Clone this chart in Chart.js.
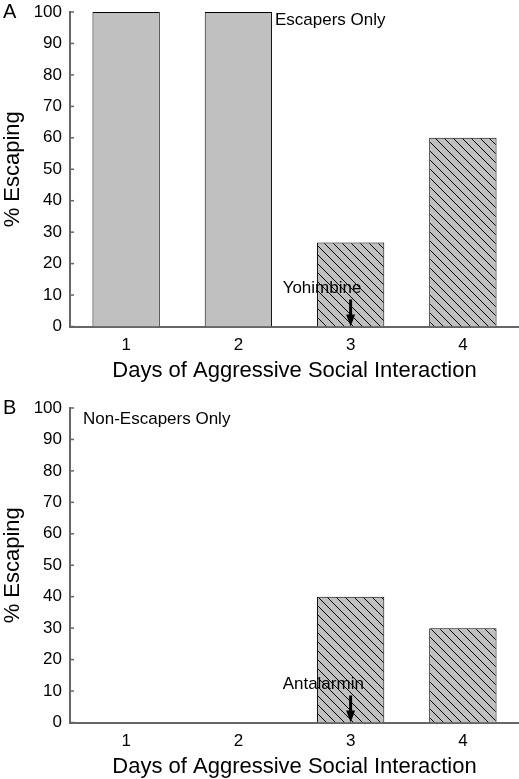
<!DOCTYPE html>
<html>
<head>
<meta charset="utf-8">
<script src="https://cdn.jsdelivr.net/npm/chart.js@4.4.1/dist/chart.umd.min.js"></script>
<style>
html, body { margin: 0; padding: 0; background: #fff; }
#wrap { position: relative; width: 519px; height: 779px; overflow: hidden; }
.panel { position: absolute; left: 0; width: 519px; height: 390px; }
</style>
</head>
<body>
<div id="wrap">
  <div class="panel" style="top:0"><canvas id="panelA" width="519" height="390"></canvas></div>
  <div class="panel" style="top:396px"><canvas id="panelB" width="519" height="390"></canvas></div>
</div>
<script>
// values
const days = ['1', '2', '3', '4'];
const escapersPct = [100, 100, 26.7, 60];
const nonEscapersPct = [0, 0, 40, 30];
const hatchedDays = [false, false, true, true];
const drugNames = ['Yohimbine', 'Antalarmin'];
const groupNames = ['Escapers Only', 'Non-Escapers Only'];
const panelLetters = ['A', 'B'];
const drugDay = '3';

const FONT = '"Liberation Sans", Arial, sans-serif';
const AXIS = '#666';

function makeHatch() {
    const c = document.createElement('canvas');
    c.width = 9; c.height = 9;
    const g = c.getContext('2d');
    g.fillStyle = '#c0c0c0';
    g.fillRect(0, 0, 9, 9);
    g.strokeStyle = '#000';
    g.lineWidth = 1;
    g.beginPath();
    g.moveTo(0, 0); g.lineTo(9, 9);
    g.moveTo(-1, 8); g.lineTo(1, 10);
    g.moveTo(8, -1); g.lineTo(10, 1);
    g.stroke();
    return g.createPattern(c, 'repeat');
}

// inward y ticks, panel letter, group label, drug arrow
const extras = {
    id: 'extras',
    afterDraw(chart, args, opts) {
        const ctx = chart.ctx;
        const xs = chart.scales.x, ys = chart.scales.y;
        ctx.save();
        ctx.strokeStyle = AXIS;
        ctx.lineWidth = 1.5;
        ys.ticks.forEach(t => {
            const py = ys.getPixelForValue(t.value);
            ctx.beginPath();
            ctx.moveTo(xs.left, py);
            ctx.lineTo(xs.left + 4, py);
            ctx.stroke();
        });

        ctx.fillStyle = '#000';
        ctx.textBaseline = 'middle';
        ctx.textAlign = 'left';
        ctx.font = '20px ' + FONT;
        ctx.fillText(opts.letter, 3, 12);

        ctx.font = '17px ' + FONT;
        ctx.fillText(opts.group, opts.groupX, opts.groupY);

        const ax = xs.getPixelForValue(days.indexOf(drugDay));
        const base = ys.getPixelForValue(0);
        ctx.fillText(opts.drug, ax - 68, base - 38);

        ctx.fillRect(ax - 1.5, base - 27, 3, 16);
        ctx.beginPath();
        ctx.moveTo(ax - 4.5, base - 12);
        ctx.lineTo(ax + 4.5, base - 12);
        ctx.lineTo(ax, base);
        ctx.closePath();
        ctx.fill();
        ctx.restore();
    }
};

function drawPanel(id, values, letter, group, groupX, groupY, drug) {
    const hatch = makeHatch();
    const ctx = document.getElementById(id).getContext('2d');
    return new Chart(ctx, {
        type: 'bar',
        data: {
            labels: days,
            datasets: [{
                label: '% Escaping',
                data: values,
                backgroundColor: hatchedDays.map(h => h ? hatch : '#c0c0c0'),
                borderColor: '#000',
                borderWidth: 1,
                barPercentage: 0.6,
                categoryPercentage: 1.0
            }]
        },
        options: {
            responsive: false,
            animation: false,
            layout: { padding: { top: 12, right: 0, left: 0, bottom: 0 } },
            plugins: {
                legend: { display: false },
                tooltip: { enabled: false },
                extras: { letter: letter, group: group, groupX: groupX, groupY: groupY, drug: drug }
            },
            scales: {
                x: {
                    grid: { display: false, drawTicks: false },
                    border: { display: true, color: AXIS, width: 2 },
                    ticks: { color: '#000', font: { family: FONT, size: 17 }, padding: 9 },
                    title: {
                        display: true,
                        text: 'Days of Aggressive Social Interaction',
                        color: '#000',
                        font: { family: FONT, size: 22 },
                        padding: { top: 0, bottom: 6 }
                    },
                    afterFit: s => { s.height = 63.5; }
                },
                y: {
                    min: 0,
                    max: 100,
                    grid: { display: false, drawTicks: false },
                    border: { display: true, color: AXIS, width: 2 },
                    ticks: { stepSize: 10, color: '#000', font: { family: FONT, size: 17 }, padding: 8 },
                    title: {
                        display: true,
                        text: '% Escaping',
                        color: '#000',
                        font: { family: FONT, size: 22 },
                        padding: 0
                    },
                    afterFit: s => { s.width = 70; s.paddingTop = 0; s.paddingBottom = 0; }
                }
            }
        },
        plugins: [extras]
    });
}

drawPanel('panelA', escapersPct, panelLetters[0], groupNames[0], 275, 20, drugNames[0]);
drawPanel('panelB', nonEscapersPct, panelLetters[1], groupNames[1], 83, 23, drugNames[1]);
</script>
</body>
</html>
